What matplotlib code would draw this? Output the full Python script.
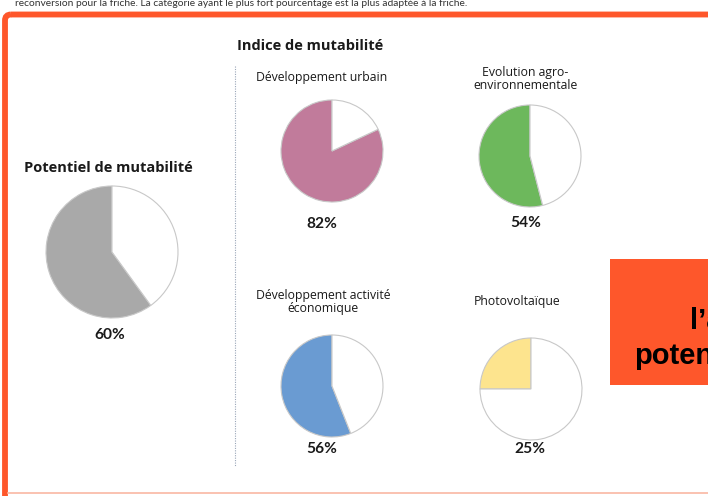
import matplotlib.pyplot as plt
from matplotlib.patches import FancyBboxPatch, Rectangle

W, H = 708, 496

# data
potentiel_label = "Potentiel de mutabilité"
potentiel_value = 60
potentiel_color = "#a9a9a9"

indice_title = "Indice de mutabilité"
categories = ["Développement urbain", "Evolution agro-\nenvironnementale",
              "Développement activité\néconomique", "Photovoltaïque"]
values = [82, 54, 56, 25]
colors = ["#c17b9b", "#6db85c", "#6a9bd2", "#fde48e"]

top_text = ("reconversion pour la friche. La catégorie ayant le plus fort "
            "pourcentage est la plus adaptée à la friche.")
box_lines = ["l’analyse", "potentiel"]

orange = "#fe572b"
txt = "#1a1a1a"
fam = ["Open Sans", "DejaVu Sans"]
fam_pct = ["Lato", "DejaVu Sans"]

fig = plt.figure(figsize=(W/100, H/100), dpi=100)
fig.patch.set_facecolor("white")
ax = fig.add_axes([0, 0, 1, 1])
ax.set_xlim(0, W)
ax.set_ylim(H, 0)
ax.axis("off")

# cut text at the top
ax.text(15, 6.5, top_text, fontsize=7.4, color="#333333", family=["Lato", "DejaVu Sans"],
        ha="left", va="baseline", zorder=1)

# frame (orange top/left, pale bottom)
frame = FancyBboxPatch((5, 14.5), 800, 600, boxstyle="round,pad=0,rounding_size=6",
                       facecolor="none", edgecolor=orange, linewidth=4.2, zorder=5)
ax.add_patch(frame)
ax.plot([8, W], [493, 493], color="#f9b8a3", lw=1.2, zorder=5)

# orange box on the right
ax.add_patch(Rectangle((610, 259), 200, 126, facecolor=orange, edgecolor="none", zorder=3))
ax.text(690, 321, box_lines[0], fontsize=21, fontweight="bold", family="Liberation Sans",
        color="black", ha="left", va="center", zorder=4)
ax.text(634, 356, box_lines[1], fontsize=21, fontweight="bold", family="Liberation Sans",
        color="black", ha="left", va="center", zorder=4)

# dotted separator
ax.plot([235, 235], [66, 466], color="#9aa6b8", lw=0.8, ls=(0, (1, 1.2)), zorder=2)

# titles
ax.text(237, 46, indice_title, fontsize=10.5, fontweight="bold", color=txt,
        family=fam, ha="left", va="center")
ax.text(24, 168, potentiel_label, fontsize=10.5, fontweight="bold", color=txt,
        family=fam, ha="left", va="center")


def pie_at(cx, cy, r, val, color):
    pad = 1.03
    pa = fig.add_axes([(cx - r*pad)/W, 1 - (cy + r*pad)/H, 2*r*pad/W, 2*r*pad/H])
    pa.pie([val, 100 - val], colors=[color, "white"], startangle=90, counterclock=True,
           wedgeprops=dict(edgecolor="#c8c8c8", linewidth=0.8))
    pa.set_xlim(-pad, pad)
    pa.set_ylim(-pad, pad)
    pa.axis("off")


# potentiel pie
pie_at(112, 252, 66, potentiel_value, potentiel_color)
ax.text(110, 335, f"{potentiel_value}%", fontsize=11.2, fontweight="bold", color=txt,
        family=fam_pct, ha="center", va="center")

# four indices
centers = [(332, 151), (530, 156), (332, 386), (531, 389)]
label_pos = [(322, 77), (525, 79), (323, 302), (517, 302)]
pct_pos = [(322, 224), (526, 223), (322, 449), (530, 449)]
for i, cat in enumerate(categories):
    cx, cy = centers[i]
    pie_at(cx, cy, 51, values[i], colors[i])
    lx, ly = label_pos[i]
    ax.text(lx, ly, cat, fontsize=8.8, color=txt, family=fam, ha="center", va="center",
            linespacing=1.0)
    px, py = pct_pos[i]
    ax.text(px, py, f"{values[i]}%", fontsize=11.2, fontweight="bold", color=txt,
            family=fam_pct, ha="center", va="center")

fig.savefig("out.png", dpi=100)
